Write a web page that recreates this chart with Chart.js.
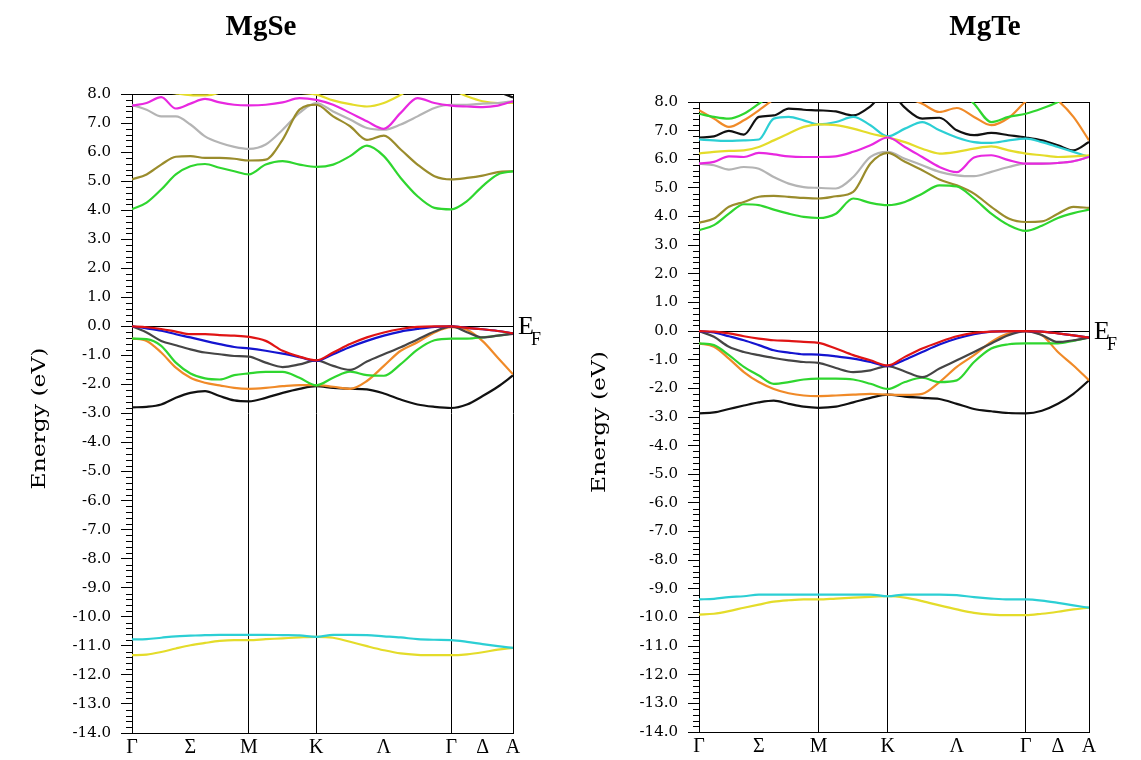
<!DOCTYPE html>
<html><head><meta charset="utf-8">
<script src="https://cdn.jsdelivr.net/npm/chart.js@4.4.1/dist/chart.umd.min.js"></script>
<style>
html,body{margin:0;padding:0;background:#fff;}
#wrap{position:relative;width:1141px;height:760px;overflow:hidden;}
canvas{position:absolute;top:0;}
</style>
</head><body>
<div id="wrap">
<canvas id="c1" width="570" height="760" style="left:0;width:570px;height:760px"></canvas>
<canvas id="c2" width="571" height="760" style="left:570px;width:571px;height:760px"></canvas>
</div>
<script>
// ---- k-path (units of |Γ-M|) ----
const kPoints = [0,0.125,0.25,0.375,0.5,0.625,0.75,0.875,1.0,
  1.144,1.289,1.433,1.577,
  1.721,1.866,2.010,2.155,2.299,2.443,2.588,2.732,
  2.866,3.0,3.13,3.26];
const kTickPos = [0,0.5,1.0,1.577,2.155,2.732,3.0,3.26];
const kTickLabels = ['Γ','Σ','M','K','Λ','Γ','Δ','A'];
const kSymLines = [0,1.0,1.577,2.732,3.26];
const energyMin = -14, energyMax = 8;

// ---- MgSe bands (eV) ----
const mgseRed    = [0,-0.03,-0.09,-0.18,-0.27,-0.27,-0.30,-0.32,-0.36,-0.50,-0.84,-1.04,-1.17,-0.90,-0.61,-0.38,-0.21,-0.09,-0.02,0,0,-0.05,-0.10,-0.16,-0.24];
const mgseBlue   = [0,-0.07,-0.15,-0.27,-0.38,-0.50,-0.61,-0.71,-0.76,-0.84,-0.94,-1.06,-1.19,-0.96,-0.71,-0.50,-0.32,-0.18,-0.09,-0.02,0,-0.05,-0.10,-0.16,-0.24];
const mgseDark   = [0,-0.21,-0.50,-0.65,-0.79,-0.90,-0.96,-1.02,-1.04,-1.25,-1.40,-1.31,-1.17,-1.36,-1.50,-1.21,-0.96,-0.72,-0.45,-0.18,0,-0.20,-0.38,-0.32,-0.26];
const mgseOrange = [-0.42,-0.50,-0.90,-1.42,-1.77,-1.94,-2.03,-2.12,-2.15,-2.12,-2.06,-2.02,-2.02,-2.08,-2.15,-1.88,-1.36,-0.84,-0.55,-0.21,-0.03,-0.12,-0.51,-1.08,-1.65];
const mgseGreenV = [-0.42,-0.44,-0.67,-1.25,-1.62,-1.79,-1.83,-1.68,-1.62,-1.57,-1.57,-1.77,-2.03,-1.77,-1.56,-1.68,-1.70,-1.30,-0.80,-0.48,-0.42,-0.42,-0.38,-0.32,-0.24];
const mgseBlack  = [-2.79,-2.77,-2.69,-2.46,-2.29,-2.23,-2.40,-2.55,-2.58,-2.46,-2.29,-2.15,-2.06,-2.12,-2.15,-2.17,-2.31,-2.52,-2.69,-2.77,-2.81,-2.69,-2.40,-2.08,-1.69];
const mgseGreenC = [4.03,4.26,4.71,5.23,5.51,5.59,5.46,5.34,5.23,5.57,5.69,5.57,5.49,5.57,5.86,6.22,5.86,5.11,4.48,4.08,4.03,4.31,4.83,5.23,5.34];
const mgseOlive  = [5.06,5.23,5.57,5.84,5.86,5.80,5.80,5.77,5.71,5.74,6.43,7.46,7.63,7.23,6.89,6.42,6.57,6.09,5.57,5.17,5.06,5.11,5.19,5.31,5.34];
const mgseGray   = [7.63,7.46,7.23,7.23,6.95,6.54,6.32,6.18,6.11,6.26,6.77,7.35,7.69,7.40,7.12,6.83,6.77,6.95,7.23,7.52,7.63,7.63,7.67,7.69,7.75];
const mgseMagenta= [7.60,7.69,7.89,7.50,7.67,7.83,7.71,7.63,7.61,7.63,7.71,7.86,7.80,7.63,7.35,7.06,6.80,7.35,7.86,7.69,7.60,7.57,7.55,7.60,7.75];
const mgseYellowC= [8.4,8.3,8.1,8.02,7.96,7.95,8.05,8.3,8.4,8.3,8.2,8.05,7.98,7.78,7.65,7.57,7.69,7.97,8.3,8.2,8.15,7.92,7.75,7.69,7.69];
const mgseBlackC = [8.8,8.8,8.8,8.8,8.8,8.8,8.8,8.8,8.8,8.8,8.8,8.8,8.8,8.8,8.8,8.8,8.8,8.8,8.8,8.8,8.8,8.6,8.4,8.1,7.88];
const mgseCyanS  = [-10.78,-10.77,-10.72,-10.67,-10.65,-10.63,-10.62,-10.62,-10.62,-10.62,-10.63,-10.64,-10.69,-10.62,-10.62,-10.63,-10.67,-10.71,-10.77,-10.79,-10.80,-10.86,-10.94,-11.01,-11.07];
const mgseYellowS= [-11.32,-11.30,-11.21,-11.09,-10.98,-10.90,-10.83,-10.80,-10.80,-10.77,-10.74,-10.71,-10.69,-10.72,-10.86,-11.01,-11.15,-11.26,-11.31,-11.32,-11.32,-11.29,-11.22,-11.13,-11.07];

// ---- MgTe bands (eV) ----
const mgteRed    = [0,-0.02,-0.08,-0.18,-0.26,-0.32,-0.34,-0.38,-0.41,-0.61,-0.84,-1.02,-1.20,-0.90,-0.61,-0.38,-0.18,-0.06,-0.02,0,0,-0.02,-0.08,-0.15,-0.23];
const mgteBlue   = [0,-0.05,-0.18,-0.32,-0.49,-0.67,-0.75,-0.81,-0.82,-0.88,-0.96,-1.08,-1.22,-1.00,-0.73,-0.47,-0.26,-0.11,-0.02,0,0,-0.02,-0.08,-0.15,-0.23];
const mgteDark   = [0,-0.20,-0.55,-0.73,-0.84,-0.94,-1.02,-1.08,-1.11,-1.29,-1.43,-1.37,-1.22,-1.41,-1.61,-1.31,-1.02,-0.73,-0.43,-0.14,0,-0.14,-0.38,-0.32,-0.23];
const mgteGreenV = [-0.43,-0.49,-0.84,-1.25,-1.55,-1.84,-1.78,-1.69,-1.66,-1.66,-1.69,-1.84,-2.02,-1.78,-1.63,-1.78,-1.72,-1.08,-0.61,-0.46,-0.43,-0.43,-0.43,-0.34,-0.23];
const mgteOrange = [-0.43,-0.55,-0.96,-1.43,-1.78,-2.02,-2.17,-2.25,-2.27,-2.25,-2.22,-2.19,-2.22,-2.23,-2.19,-1.78,-1.25,-0.84,-0.38,-0.08,0,-0.14,-0.73,-1.20,-1.72];
const mgteBlack  = [-2.87,-2.84,-2.72,-2.60,-2.49,-2.43,-2.54,-2.64,-2.68,-2.64,-2.49,-2.33,-2.22,-2.29,-2.33,-2.37,-2.54,-2.72,-2.80,-2.86,-2.87,-2.78,-2.54,-2.19,-1.72];
const mgteGreenC = [3.52,3.70,4.10,4.43,4.40,4.24,4.10,3.99,3.95,4.10,4.63,4.48,4.40,4.51,4.80,5.09,5.05,4.63,4.10,3.70,3.50,3.68,3.95,4.12,4.24];
const mgteOlive  = [3.78,3.93,4.34,4.51,4.69,4.72,4.69,4.65,4.63,4.71,4.86,5.85,6.22,5.91,5.62,5.29,5.09,4.80,4.34,3.93,3.81,3.83,4.10,4.34,4.30];
const mgteGray   = [5.85,5.79,5.64,5.73,5.67,5.38,5.15,5.03,5.00,4.98,5.38,6.08,6.26,6.02,5.79,5.56,5.44,5.41,5.56,5.73,5.85,5.85,5.87,5.93,6.08];
const mgteMagenta= [5.85,5.91,6.10,6.08,6.22,6.17,6.10,6.08,6.08,6.10,6.26,6.49,6.76,6.43,6.08,5.73,5.55,6.06,6.14,5.97,5.85,5.85,5.87,5.93,6.08];
const mgteYellowC= [6.20,6.26,6.29,6.31,6.43,6.66,6.90,7.13,7.22,7.19,7.07,6.90,6.76,6.60,6.37,6.20,6.26,6.37,6.45,6.31,6.20,6.14,6.08,6.10,6.14];
const mgteCyanC  = [6.69,6.66,6.64,6.66,6.69,7.42,7.48,7.36,7.22,7.30,7.48,7.19,6.80,7.07,7.30,7.01,6.76,6.60,6.57,6.66,6.72,6.60,6.43,6.26,6.08];
const mgteBlackC = [6.76,6.80,6.99,6.86,7.48,7.53,7.77,7.73,7.71,7.67,7.53,7.85,8.4,7.80,7.42,7.45,7.01,6.84,6.92,6.84,6.76,6.66,6.49,6.31,6.60];
const mgteGreenC2= [7.59,7.48,7.42,7.59,7.94,8.3,8.6,8.7,8.7,8.7,8.7,8.7,8.7,8.7,8.7,8.6,8.5,7.94,7.30,7.48,7.59,7.77,8.0,8.3,8.5];
const mgteOrangeC= [7.71,7.42,7.13,7.36,7.71,8.1,8.5,8.7,8.7,8.7,8.7,8.7,8.6,8.2,7.94,7.65,7.79,7.48,7.19,7.45,8.02,8.4,8.05,7.48,6.66];
const mgteCyanS  = [-9.37,-9.35,-9.29,-9.26,-9.20,-9.20,-9.20,-9.20,-9.20,-9.20,-9.20,-9.20,-9.26,-9.20,-9.20,-9.20,-9.22,-9.29,-9.34,-9.37,-9.37,-9.41,-9.49,-9.58,-9.66];
const mgteYellowS= [-9.90,-9.87,-9.78,-9.66,-9.55,-9.45,-9.40,-9.37,-9.37,-9.34,-9.31,-9.28,-9.26,-9.31,-9.43,-9.58,-9.72,-9.84,-9.90,-9.92,-9.92,-9.87,-9.80,-9.72,-9.66];

const C = {red:'#e01414', blue:'#1414d0', dark:'#454545', orange:'#f08a28', green:'#2fd62f', black:'#111111',
  olive:'#9a8c2c', gray:'#b4b4b4', magenta:'#e828e0', yellow:'#e4dc2a', cyan:'#2ccfd4'};

const mgseBands = [
  [mgseRed,C.red],[mgseBlue,C.blue],[mgseDark,C.dark],[mgseGreenV,C.green],[mgseOrange,C.orange],[mgseBlack,C.black],
  [mgseGreenC,C.green],[mgseOlive,C.olive],[mgseMagenta,C.magenta],[mgseGray,C.gray],[mgseYellowC,C.yellow],[mgseBlackC,C.black],
  [mgseCyanS,C.cyan],[mgseYellowS,C.yellow]
];
const mgteBands = [
  [mgteRed,C.red],[mgteBlue,C.blue],[mgteDark,C.dark],[mgteGreenV,C.green],[mgteOrange,C.orange],[mgteBlack,C.black],
  [mgteGreenC,C.green],[mgteOlive,C.olive],[mgteMagenta,C.magenta],[mgteGray,C.gray],[mgteYellowC,C.yellow],[mgteCyanC,C.cyan],
  [mgteBlackC,C.black],[mgteGreenC2,C.green],[mgteOrangeC,C.orange],
  [mgteCyanS,C.cyan],[mgteYellowS,C.yellow]
];

const decor = {
  id:'decor',
  afterDraw(chart, args, o){
    const ctx = chart.ctx, a = chart.chartArea, ys = chart.scales.y;
    ctx.save();
    // minor ticks
    ctx.strokeStyle = '#000'; ctx.lineWidth = 1; ctx.beginPath();
    for (let i = energyMin*5; i <= energyMax*5; i++) {
      if (i % 5 === 0) continue;
      const py = Math.round(ys.getPixelForValue(i/5)) + 0.5;
      ctx.moveTo(a.left - 6, py); ctx.lineTo(a.left, py);
    }
    ctx.stroke();
    ctx.fillStyle = '#000';
    // title
    ctx.font = 'bold 29px "Liberation Serif"';
    ctx.textAlign = 'center'; ctx.textBaseline = 'alphabetic';
    ctx.fillText(o.title, o.titleX, 35);
    // E_F
    const y0 = ys.getPixelForValue(0);
    ctx.textAlign = 'left';
    ctx.font = '26px "Liberation Serif"';
    ctx.fillText('E', a.right + 5, y0 + 8);
    ctx.font = '18px "Liberation Serif"';
    ctx.fillText('F', a.right + 18, y0 + 19);
    // axis title
    ctx.translate(o.labelX, (a.top + a.bottom)/2 + 5);
    ctx.rotate(-Math.PI/2);
    ctx.scale(1.3, 1);
    ctx.font = '18px "DejaVu Serif"';
    ctx.textAlign = 'center'; ctx.textBaseline = 'middle';
    ctx.fillText('Energy (eV)', 0, 0);
    ctx.restore();
  }
};

function makeChart(id, bands, pad, deco) {
  const datasets = bands.map(([vals, col]) => ({
    data: kPoints.map((k, i) => ({x: k, y: vals[i]})),
    borderColor: col, borderWidth: 2.2, pointRadius: 0, fill: false,
    cubicInterpolationMode: 'monotone'
  }));
  return new Chart(document.getElementById(id), {
    type: 'line',
    data: {datasets},
    plugins: [decor],
    options: {
      responsive: false, animation: false, devicePixelRatio: 1,
      layout: {padding: pad},
      plugins: {legend: {display: false}, tooltip: {enabled: false}, decor: deco},
      scales: {
        x: {
          type: 'linear', min: 0, max: kPoints[kPoints.length-1],
          afterBuildTicks: s => { s.ticks = kTickPos.map(v => ({value: v})); },
          afterFit: s => { s.height = 24; },
          ticks: {autoSkip: false, maxRotation: 0, minRotation: 0, padding: 3, color: '#000',
            font: {family: '"Liberation Serif"', size: 20},
            callback: (v, i) => kTickLabels[i]},
          grid: {drawTicks: false, lineWidth: 1,
            color: c => (c.tick && kSymLines.some(s => Math.abs(s - c.tick.value) < 1e-6)) ? '#000' : 'rgba(0,0,0,0)'},
          border: {display: true, color: '#000', width: 1}
        },
        y: {
          min: energyMin, max: energyMax,
          afterFit: s => { s.width = 60; },
          ticks: {stepSize: 1, autoSkip: false, padding: 10, color: '#000',
            font: {family: '"DejaVu Serif"', size: 15},
            callback: v => Number(v).toFixed(1)},
          grid: {tickLength: 11, tickColor: '#000', lineWidth: 1,
            color: c => (c.tick && (c.tick.value === 0 || c.tick.value === energyMax)) ? '#000' : 'rgba(0,0,0,0)'},
          border: {display: true, color: '#000', width: 1}
        }
      }
    }
  });
}

makeChart('c1', mgseBands, {left: 72, right: 57, top: 94, bottom: 3}, {title: 'MgSe', titleX: 261, labelX: 40});
makeChart('c2', mgteBands, {left: 69, right: 52, top: 102, bottom: 4}, {title: 'MgTe', titleX: 415, labelX: 30});
</script>
</body></html>
